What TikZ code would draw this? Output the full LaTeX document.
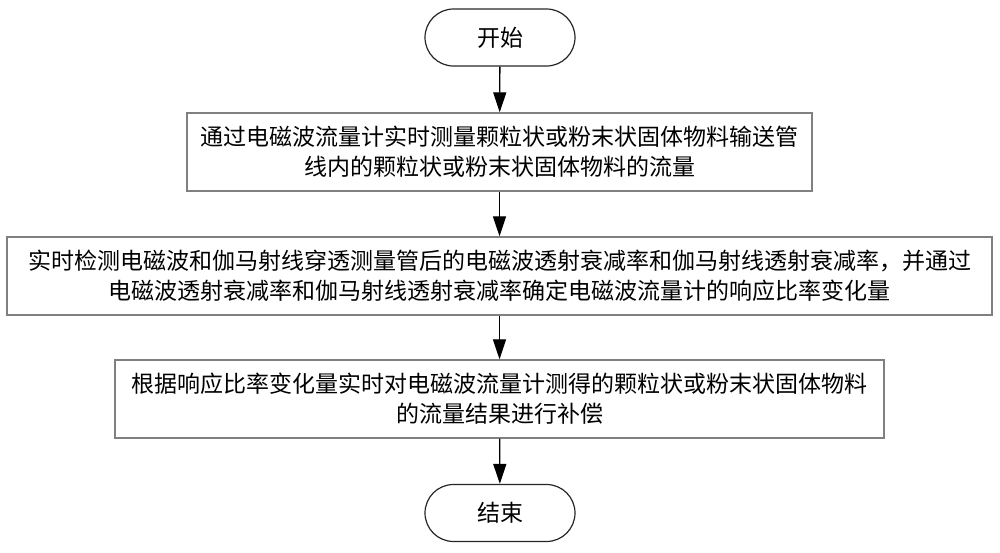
\documentclass[tikz,border=0pt]{standalone}
\usepackage{fontspec}
\setmainfont{Noto Sans CJK SC}
\usetikzlibrary{arrows.meta,shapes.misc}
\begin{document}
\begin{tikzpicture}[x=1pt,y=-1pt,
  every node/.style={font=\fontsize{23}{30}\selectfont, inner sep=0pt, align=center},
  procbox/.style={draw=black!50, line width=1.4pt, fill=white},
  termbox/.style={draw=black!85, line width=1.2pt, rounded rectangle, minimum width=150pt, minimum height=57pt},
  flow/.style={draw=black, line width=1.3pt, -{Triangle[width=13pt,length=20pt]}}
]
\useasboundingbox (0,0) rectangle (1000,552);
\node[termbox] (start) at (500,37.5) {开始};
\node[procbox, minimum width=625pt, minimum height=78pt] (b1) at (499.5,152) {通过电磁波流量计实时测量颗粒状或粉末状固体物料输送管\\线内的颗粒状或粉末状固体物料的流量};
\node[procbox, minimum width=985pt, minimum height=78pt] (b2) at (499.5,276) {实时检测电磁波和伽马射线穿透测量管后的电磁波透射衰减率和伽马射线透射衰减率，并通过\\电磁波透射衰减率和伽马射线透射衰减率确定电磁波流量计的响应比率变化量};
\node[procbox, minimum width=769pt, minimum height=78pt] (b3) at (499.5,399) {根据响应比率变化量实时对电磁波流量计测得的颗粒状或粉末状固体物料\\的流量结果进行补偿};
\node[termbox] (end) at (500,513) {结束};
\draw[flow] (start) -- (b1);
\draw[flow] (b1) -- (b2);
\draw[flow] (b2) -- (b3);
\draw[flow] (b3) -- (end);
\end{tikzpicture}
\end{document}
